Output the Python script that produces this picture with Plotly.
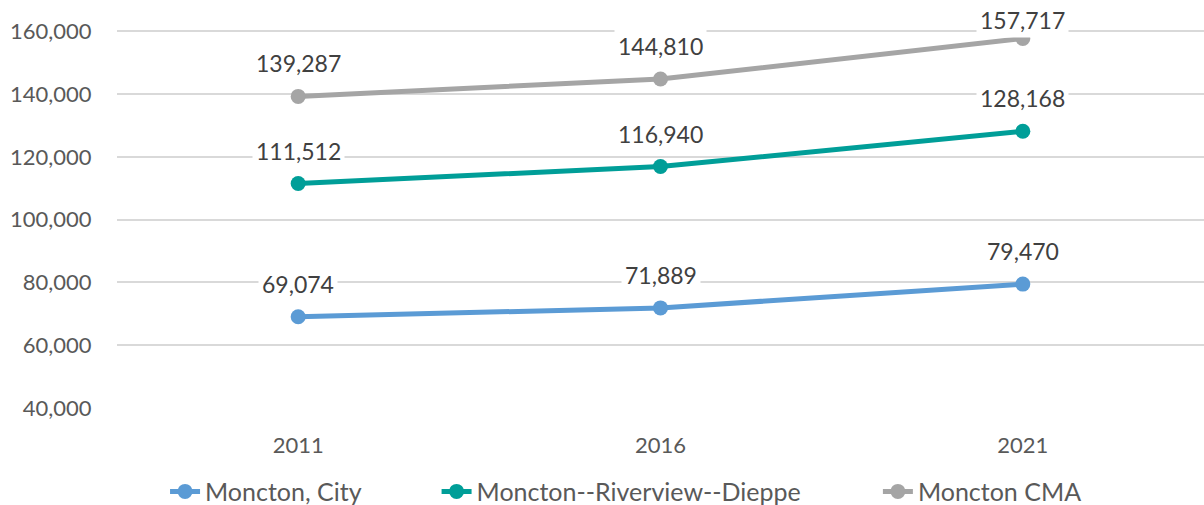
import plotly.graph_objects as go

years = ["2011", "2016", "2021"]
moncton_city = [69074, 71889, 79470]
moncton_rd = [111512, 116940, 128168]
moncton_cma = [139287, 144810, 157717]

series = [
    ("Moncton, City", moncton_city, "#5B9BD5"),
    ("Moncton--Riverview--Dieppe", moncton_rd, "#009E98"),
    ("Moncton CMA", moncton_cma, "#A5A5A5"),
]
# one legend per series so each entry can sit at its own spot along the bottom
legend_ids = ["legend", "legend2", "legend3"]
legend_x = [0.0442, 0.294, 0.700]

y_min, y_max = 40000, 170000
font_family = "Lato, 'Noto Sans', sans-serif"
x_pos = list(range(len(years)))

fig = go.Figure()
annotations = []
for (name, values, color), lg in zip(series, legend_ids):
    fig.add_trace(go.Scatter(
        x=x_pos, y=values, name=name, mode="lines+markers",
        line=dict(color=color, width=5),
        marker=dict(color=color, size=15),
        legend=lg,
    ))
    for xp, v in zip(x_pos, values):
        # value labels sit above the point; labels near the top edge are pulled down
        shift = 33 if v < 150000 else 19
        annotations.append(dict(
            x=xp, y=v, xref="x", yref="y", text=f"{v:,}", showarrow=False,
            yshift=shift, bgcolor="white", borderpad=3,
            font=dict(family=font_family, size=23, color="#404040"),
        ))

legend_style = dict(
    orientation="h", xanchor="left", y=-0.205, yanchor="middle",
    font=dict(family=font_family, size=25, color="#595959"),
    bgcolor="rgba(0,0,0,0)",
)

fig.update_layout(
    width=1204, height=505,
    margin=dict(l=117, r=0, t=0, b=97, autoexpand=False),
    paper_bgcolor="white", plot_bgcolor="white",
    annotations=annotations,
    showlegend=True,
    font=dict(family=font_family),
)
for lg, lx in zip(legend_ids, legend_x):
    fig.update_layout({lg: dict(legend_style, x=lx)})

fig.update_xaxes(
    range=[-0.5, 2.5], tickvals=x_pos, ticktext=years,
    showgrid=False, zeroline=False, showline=False,
    ticks="outside", ticklen=18, tickcolor="white",
    tickfont=dict(family=font_family, size=22, color="#595959"),
)
fig.update_yaxes(
    range=[y_min, y_max], tickvals=list(range(40000, 160001, 20000)),
    tickformat=",d", showgrid=True, gridcolor="#D9D9D9", gridwidth=2,
    zeroline=False, showline=False,
    ticks="outside", ticklen=20, tickcolor="white",
    tickfont=dict(family=font_family, size=22, color="#595959"),
)

fig.write_html("out.html")
